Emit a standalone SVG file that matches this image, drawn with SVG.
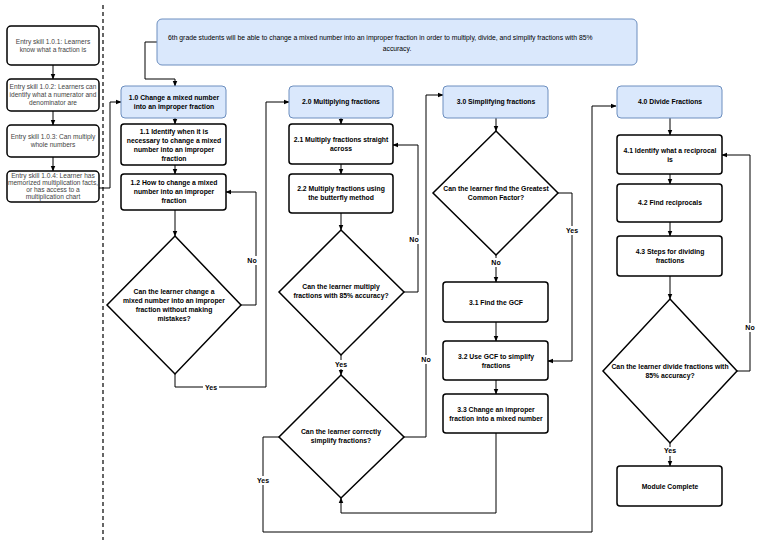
<svg xmlns="http://www.w3.org/2000/svg" width="768" height="545" viewBox="0 0 768 545">
<style>
text{font-family:"Liberation Sans",Arial,sans-serif;font-size:7px;text-anchor:middle;fill:#000}
.e{fill:#444;font-size:6.6px}
.b{font-weight:bold;font-size:6.8px}
.box{fill:#fff;stroke:#000;stroke-width:1.5}
.blue{fill:#dae8fc;stroke:#6c8ebf;stroke-width:1}
.c{fill:none;stroke:#000;stroke-width:1}
.lbl{font-size:7px;font-weight:bold}
.lb{fill:#fff}
</style>
<defs><marker id="a" viewBox="0 0 10 10" refX="9" refY="5" markerWidth="6" markerHeight="6" orient="auto"><path d="M0,1 L10,5 L0,9 Z" fill="#000"/></marker></defs>
<rect width="768" height="545" fill="#fff"/>
<line x1="103" y1="5" x2="103" y2="540" stroke="#000" stroke-width="1.2" stroke-dasharray="4,3"/>
<g id="connectors">
<path class="c" marker-end="url(#a)" d="M53,65 V79"/>
<path class="c" marker-end="url(#a)" d="M53,111 V125"/>
<path class="c" marker-end="url(#a)" d="M53,157 V171"/>
<path class="c" marker-end="url(#a)" d="M99,188 H110 V102 H121"/>
<path class="c" marker-end="url(#a)" d="M157,42 H145 V79 H175 V86"/>
<path class="c" marker-end="url(#a)" d="M175,118 V124"/>
<path class="c" marker-end="url(#a)" d="M175,165 V174"/>
<path class="c" marker-end="url(#a)" d="M175,210 V236"/>
<path class="c" marker-end="url(#a)" d="M241,305 H256 V192 H226"/>
<path class="c" marker-end="url(#a)" d="M175,374 V387 H266 V102 H289"/>
<path class="c" marker-end="url(#a)" d="M341,118 V124"/>
<path class="c" marker-end="url(#a)" d="M341,164 V174"/>
<path class="c" marker-end="url(#a)" d="M341,213 V230"/>
<path class="c" marker-end="url(#a)" d="M404,292 H418 V145 H393"/>
<path class="c" marker-end="url(#a)" d="M341,355 V375"/>
<path class="c" marker-end="url(#a)" d="M404,437 H426 V95 H443"/>
<path class="c" marker-end="url(#a)" d="M279,437 H263 V532 H592 V106 H616"/>
<path class="c" marker-end="url(#a)" d="M496,433 V513 H341 V498"/>
<path class="c" marker-end="url(#a)" d="M496,118 V131"/>
<path class="c" marker-end="url(#a)" d="M496,255 V282"/>
<path class="c" marker-end="url(#a)" d="M558,193 H572 V361 H548"/>
<path class="c" marker-end="url(#a)" d="M496,322 V341"/>
<path class="c" marker-end="url(#a)" d="M496,380 V394"/>
<path class="c" marker-end="url(#a)" d="M670,118 V135"/>
<path class="c" marker-end="url(#a)" d="M670,174 V184"/>
<path class="c" marker-end="url(#a)" d="M670,222 V236"/>
<path class="c" marker-end="url(#a)" d="M670,276 V299"/>
<path class="c" marker-end="url(#a)" d="M737,371 H750 V155 H722"/>
<path class="c" marker-end="url(#a)" d="M670,443 V466"/>
<rect class="lb" x="246" y="256" width="12" height="9"/><text class="lbl" x="252" y="263">No</text>
<rect class="lb" x="203" y="383" width="16" height="9"/><text class="lbl" x="211" y="390">Yes</text>
<rect class="lb" x="408" y="235" width="12" height="9"/><text class="lbl" x="414" y="242">No</text>
<rect class="lb" x="334" y="360" width="15" height="9"/><text class="lbl" x="341" y="367">Yes</text>
<rect class="lb" x="420" y="355" width="12" height="9"/><text class="lbl" x="426" y="362">No</text>
<rect class="lb" x="255" y="476" width="16" height="9"/><text class="lbl" x="263" y="483">Yes</text>
<rect class="lb" x="490" y="258" width="12" height="9"/><text class="lbl" x="496" y="265">No</text>
<rect class="lb" x="564" y="226" width="16" height="9"/><text class="lbl" x="572" y="233">Yes</text>
<rect class="lb" x="744" y="323" width="12" height="9"/><text class="lbl" x="750" y="330">No</text>
<rect class="lb" x="662" y="447" width="16" height="9"/><text class="lbl" x="670" y="453">Yes</text>
</g>
<g id="e1"><rect class="box" x="7" y="26" width="92" height="39" rx="4"/><text class="e" x="53" y="44">Entry skill 1.0.1: Learners</text><text class="e" x="53" y="52">know what a fraction is</text></g>
<g id="e2"><rect class="box" x="7" y="79" width="92" height="32" rx="4"/><text class="e" x="53" y="89">Entry skill 1.0.2: Learners can</text><text class="e" x="53" y="97">identify what a numerator and</text><text class="e" x="53" y="105">denominator are</text></g>
<g id="e3"><rect class="box" x="7" y="125" width="92" height="32" rx="4"/><text class="e" x="53" y="139">Entry skill 1.0.3: Can multiply</text><text class="e" x="53" y="147">whole numbers</text></g>
<g id="e4"><rect class="box" x="7" y="171" width="92" height="31" rx="4"/><text class="e" x="53" y="178">Entry skill 1.0.4: Learner has</text><text class="e" x="53" y="185">memorized multiplication facts,</text><text class="e" x="53" y="192">or has access to a</text><text class="e" x="53" y="199">multiplication chart</text></g>
<g id="obj"><rect class="blue" x="157" y="19" width="480" height="46" rx="5"/><text x="168" y="40" style="text-anchor:start;font-size:6.8px">6th grade students will be able to change a mixed number into an improper fraction in order to multiply, divide, and simplify fractions with 85%</text><text x="397" y="51" style="font-size:6.8px">accuracy.</text></g>
<g id="n10"><rect class="blue" x="121" y="86" width="105" height="32" rx="4"/><text class="b" x="174" y="100">1.0 Change a mixed number</text><text class="b" x="174" y="109">into an improper fraction</text></g>
<g id="n11"><rect class="box" x="121" y="124" width="105" height="41" rx="3"/><text class="b" x="174" y="134">1.1 Identify when it is</text><text class="b" x="174" y="143">necessary to change a mixed</text><text class="b" x="174" y="152">number into an improper</text><text class="b" x="174" y="161">fraction</text></g>
<g id="n12"><rect class="box" x="121" y="174" width="105" height="36" rx="3"/><text class="b" x="174" y="185">1.2 How to change a mixed</text><text class="b" x="174" y="194">number into an improper</text><text class="b" x="174" y="203">fraction</text></g>
<g id="d1"><polygon class="box" points="175,236 241,305 175,374 107,305"/><text class="b" x="174" y="294">Can the learner change a</text><text class="b" x="174" y="303">mixed number into an improper</text><text class="b" x="174" y="312">fraction without making</text><text class="b" x="174" y="321">mistakes?</text></g>
<g id="n20"><rect class="blue" x="289" y="86" width="104" height="32" rx="4"/><text class="b" x="341" y="104">2.0 Multiplying fractions</text></g>
<g id="n21"><rect class="box" x="289" y="124" width="104" height="40" rx="3"/><text class="b" x="341" y="142">2.1 Multiply fractions straight</text><text class="b" x="341" y="151">across</text></g>
<g id="n22"><rect class="box" x="289" y="174" width="104" height="39" rx="3"/><text class="b" x="341" y="191">2.2 Multiply fractions using</text><text class="b" x="341" y="200">the butterfly method</text></g>
<g id="d2"><polygon class="box" points="341,230 404,292 341,355 279,292"/><text class="b" x="341" y="289">Can the learner multiply</text><text class="b" x="341" y="298">fractions with 85% accuracy?</text></g>
<g id="d3"><polygon class="box" points="341,375 404,437 341,498 279,437"/><text class="b" x="341" y="434">Can the learner correctly</text><text class="b" x="341" y="443">simplify fractions?</text></g>
<g id="n30"><rect class="blue" x="443" y="86" width="105" height="32" rx="4"/><text class="b" x="496" y="104">3.0 Simplifying fractions</text></g>
<g id="d4"><polygon class="box" points="496,131 558,193 496,255 433,193"/><text class="b" x="496" y="191">Can the learner find the Greatest</text><text class="b" x="496" y="200">Common Factor?</text></g>
<g id="n31"><rect class="box" x="443" y="282" width="105" height="40" rx="3"/><text class="b" x="496" y="305">3.1 Find the GCF</text></g>
<g id="n32"><rect class="box" x="443" y="341" width="105" height="39" rx="3"/><text class="b" x="496" y="359">3.2 Use GCF to simplify</text><text class="b" x="496" y="368">fractions</text></g>
<g id="n33"><rect class="box" x="443" y="394" width="105" height="39" rx="3"/><text class="b" x="496" y="412">3.3 Change an improper</text><text class="b" x="496" y="421">fraction into a mixed number</text></g>
<g id="n40"><rect class="blue" x="617" y="86" width="105" height="32" rx="4"/><text class="b" x="670" y="104">4.0 Divide Fractions</text></g>
<g id="n41"><rect class="box" x="617" y="135" width="105" height="39" rx="3"/><text class="b" x="670" y="153">4.1 Identify what a reciprocal</text><text class="b" x="670" y="162">is</text></g>
<g id="n42"><rect class="box" x="617" y="184" width="105" height="38" rx="3"/><text class="b" x="670" y="205">4.2 Find reciprocals</text></g>
<g id="n43"><rect class="box" x="617" y="236" width="105" height="40" rx="3"/><text class="b" x="670" y="254">4.3 Steps for dividing</text><text class="b" x="670" y="263">fractions</text></g>
<g id="d5"><polygon class="box" points="670,299 737,371 670,443 603,371"/><text class="b" x="670" y="369">Can the learner divide fractions with</text><text class="b" x="670" y="378">85% accuracy?</text></g>
<g id="n50"><rect class="box" x="617" y="466" width="105" height="40" rx="3"/><text class="b" x="670" y="489">Module Complete</text></g>
</svg>
